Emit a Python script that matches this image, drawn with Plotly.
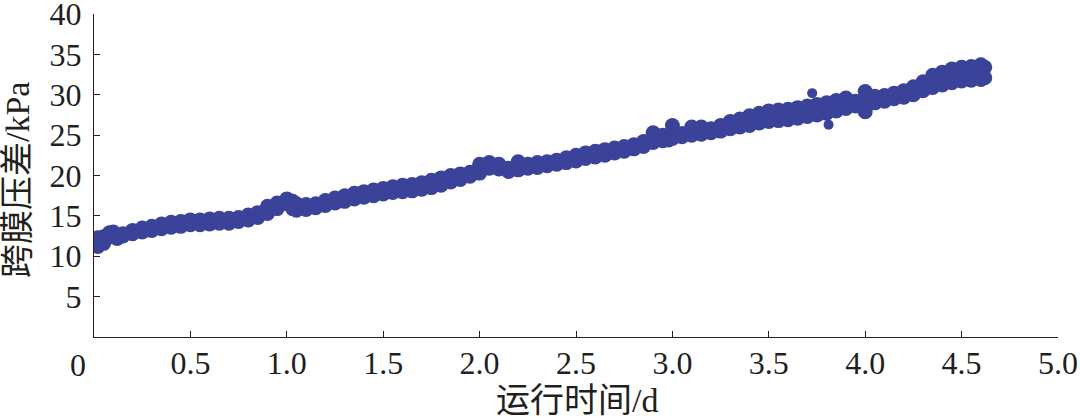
import plotly.graph_objects as go

# Running time (d) sampled along the scatter band
days = [0.02, 0.05, 0.08, 0.10, 0.12, 0.15, 0.20, 0.25, 0.30, 0.35, 0.40, 0.45, 0.50, 0.55,
        0.60, 0.65, 0.70, 0.75, 0.80, 0.85, 0.90, 0.95, 1.00, 1.03, 1.05, 1.10, 1.15, 1.20,
        1.25, 1.30, 1.35, 1.40, 1.45, 1.50, 1.55, 1.60, 1.65, 1.70, 1.75, 1.80, 1.85, 1.90,
        1.95, 2.00, 2.05, 2.10, 2.15, 2.20, 2.25, 2.30, 2.35, 2.40, 2.45, 2.50, 2.55, 2.60,
        2.65, 2.70, 2.75, 2.80, 2.85, 2.90, 2.95, 2.98, 3.00, 3.05, 3.10, 3.15, 3.20, 3.25,
        3.30, 3.35, 3.40, 3.45, 3.50, 3.55, 3.60, 3.65, 3.70, 3.75, 3.80, 3.85, 3.90, 3.95,
        3.98, 4.00, 4.05, 4.10, 4.15, 4.20, 4.25, 4.30, 4.35, 4.40, 4.45, 4.50, 4.55, 4.60, 4.62]

# Upper and lower extent of the measured TMP points (kPa)
tmp_high = [12.3, 12.4, 12.9, 13.0, 12.4, 12.8, 13.2, 13.5, 13.7, 14.0, 14.2, 14.3, 14.5, 14.5,
            14.6, 14.7, 14.7, 14.8, 15.1, 15.4, 16.2, 16.6, 17.1, 16.8, 16.5, 16.4, 16.5, 16.9,
            17.2, 17.5, 17.8, 18.0, 18.2, 18.4, 18.6, 18.8, 18.9, 19.1, 19.4, 19.7, 20.0, 20.2,
            20.4, 21.4, 21.6, 21.4, 20.9, 21.7, 21.4, 21.6, 21.7, 21.9, 22.2, 22.5, 22.8, 23.0,
            23.2, 23.4, 23.6, 23.8, 24.2, 25.3, 25.0, 24.6, 26.2, 25.2, 26.0, 26.0, 25.8, 26.2,
            26.7, 27.0, 27.4, 27.7, 28.0, 28.1, 28.2, 28.4, 28.6, 28.8, 29.0, 29.3, 29.6, 29.2,
            28.9, 30.4, 29.8, 29.9, 30.2, 30.5, 31.0, 31.6, 32.4, 32.8, 33.2, 33.4, 33.5, 33.7, 33.4]
tmp_low = [11.2, 11.6, 12.4, 12.6, 12.2, 12.5, 12.8, 13.0, 13.2, 13.4, 13.6, 13.7, 13.9, 13.9,
           14.0, 14.1, 14.1, 14.3, 14.5, 14.8, 15.3, 15.9, 16.5, 15.9, 15.7, 15.8, 16.0, 16.3,
           16.6, 16.8, 17.1, 17.3, 17.5, 17.7, 17.9, 18.0, 18.1, 18.3, 18.5, 18.8, 19.2, 19.5,
           19.9, 20.3, 20.9, 20.8, 20.5, 20.7, 20.9, 21.0, 21.2, 21.4, 21.6, 21.8, 22.1, 22.3,
           22.5, 22.8, 23.0, 23.3, 23.6, 24.1, 24.3, 24.4, 24.6, 24.8, 25.0, 25.1, 25.3, 25.5,
           25.8, 26.0, 26.2, 26.5, 26.7, 26.8, 26.9, 27.1, 27.3, 27.5, 27.7, 28.0, 28.3, 28.6,
           28.6, 27.9, 29.0, 29.2, 29.5, 29.7, 30.0, 30.5, 30.9, 31.2, 31.5, 31.7, 31.8, 31.9, 32.1]

# Isolated outlier points
out_days = [3.725, 3.81]
out_tmp = [30.2, 26.3]

x_tickvals = [0.5, 1.0, 1.5, 2.0, 2.5, 3.0, 3.5, 4.0, 4.5, 5.0]
x_ticktext = ["0.5", "1.0", "1.5", "2.0", "2.5", "3.0", "3.5", "4.0", "4.5", "5.0"]
y_tickvals = [5, 10, 15, 20, 25, 30, 35, 40]

COLOR = "#3a429a"
AXC = "#231f20"
FONT = "Liberation Serif, 'Noto Sans CJK SC', serif"

L, R, T, B = 94, 22, 14, 81
W, H = 1080, 418
pw, ph = W - L - R, H - T - B


def px_to_paper(xp, yp):
    return (xp - L) / pw, (H - B - yp) / ph


fig = go.Figure()
fig.add_trace(go.Scatter(x=days, y=tmp_low, mode="lines+markers",
                         line=dict(width=1, color=COLOR),
                         marker=dict(size=15, color=COLOR), showlegend=False,
                         hoverinfo="skip"))
fig.add_trace(go.Scatter(x=days, y=tmp_high, mode="lines+markers", fill="tonexty",
                         fillcolor=COLOR, line=dict(width=1, color=COLOR),
                         marker=dict(size=15, color=COLOR), showlegend=False))
fig.add_trace(go.Scatter(x=out_days, y=out_tmp, mode="markers",
                         marker=dict(size=10, color=COLOR), showlegend=False))

x0, y0 = px_to_paper(78, 365)
x1, y1 = px_to_paper(577, 400)
x2, y2 = px_to_paper(18, 180)

axis_common = dict(ticks="inside", ticklen=6, tickwidth=1.3, tickcolor=AXC,
                   showline=True, linecolor=AXC, linewidth=1.3, automargin=False,
                   showgrid=False, zeroline=False, ticklabeloverflow="allow",
                   tickfont=dict(family=FONT, size=32, color=AXC))

fig.update_layout(
    width=W, height=H,
    margin=dict(l=L, r=R, t=T, b=B, autoexpand=False),
    paper_bgcolor="white", plot_bgcolor="white",
    font=dict(family=FONT, size=32, color=AXC),
    xaxis=dict(range=[0, 5], tickvals=x_tickvals, ticktext=x_ticktext,
               ticklabelstandoff=-3, **axis_common),
    yaxis=dict(range=[0, 40], tickvals=y_tickvals,
               ticklabelstandoff=5, **axis_common),
    annotations=[
        dict(text="0", x=x0, y=y0, xref="paper", yref="paper", showarrow=False,
             xanchor="center", yanchor="middle",
             font=dict(family=FONT, size=32, color=AXC)),
        dict(text="运行时间/d", x=x1, y=y1, xref="paper", yref="paper",
             showarrow=False, xanchor="center", yanchor="middle",
             font=dict(family=FONT, size=34, color=AXC)),
        dict(text="跨膜压差/kPa", x=x2, y=y2, xref="paper", yref="paper",
             showarrow=False, textangle=-90, xanchor="center", yanchor="middle",
             font=dict(family=FONT, size=34, color=AXC)),
    ],
)

fig.write_html("out.html", config={"displayModeBar": False},
               post_script="document.body.style.margin='0';"
                           "document.body.style.overflow='hidden';")
